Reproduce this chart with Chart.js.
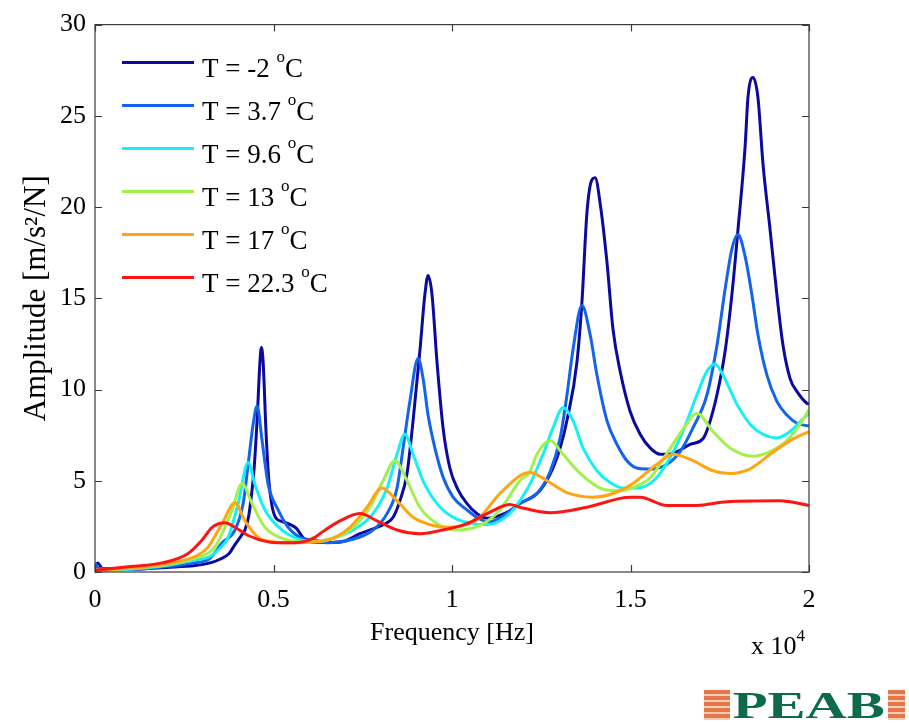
<!DOCTYPE html>
<html><head><meta charset="utf-8">
<script src="https://cdn.jsdelivr.net/npm/chart.js@4.4.1/dist/chart.umd.min.js"></script>
<style>
body{margin:0;background:#fff;}
#wrap{position:relative;width:909px;height:724px;overflow:hidden;background:#fff;}
#c{position:absolute;left:0;top:0;}
.note{position:absolute;left:751px;top:629px;font-size:26px;font-family:"Liberation Serif","Times New Roman",serif;color:#000;white-space:nowrap;}
.note sup{font-size:17px;position:relative;top:-3px;}
#logo{position:absolute;left:704px;top:690px;width:201px;height:30px;
 background:repeating-linear-gradient(to bottom,#e4774a 0px,#e4774a 4px,#f7cdb5 4px,#f7cdb5 6px);}
#logo span{position:absolute;left:26px;width:158px;top:0;height:30px;background:#fff;text-align:center;
 font-family:"Liberation Serif","DejaVu Serif",serif;font-weight:bold;font-size:38px;line-height:31px;color:#0d6b4b;}
#logo span i{font-style:normal;display:inline-block;transform:scaleX(1.5);}
</style></head><body>
<div id="wrap">
<canvas id="c" width="909" height="724"></canvas>
<div class="note">x 10<sup>4</sup></div>
<div id="logo"><span><i>PEAB</i></span></div>
</div>
<script>
const FONT = '"Liberation Serif", "Times New Roman", serif';
const seriesLabels = ['T = -2 °C','T = 3.7 °C','T = 9.6 °C','T = 13 °C','T = 17 °C','T = 22.3 °C'];
const seriesColors = ['#0a0a9e','#1463ec','#14f0f5','#a2f04c','#ffa514','#ff1414'];
const xTicks = [0, 0.5, 1, 1.5, 2];
const yTicks = [0, 5, 10, 15, 20, 25, 30];

// frequency in units of 10^4 Hz, amplitude in m/s^2/N
const tMinus2 = [[0,0.3],[0.008,0.5],[0.02,0.2],[0.1,0.15],[0.2,0.25],[0.28,0.35],[0.322,0.5],[0.35,0.7],[0.375,1.0],[0.392,1.5],[0.41,2.0],[0.42,2.3],[0.43,3.0],[0.437,4.0],[0.445,5.5],[0.454,8.3],[0.462,11.5],[0.466,12.3],[0.471,11.5],[0.479,7.7],[0.487,5.0],[0.496,3.6],[0.507,2.95],[0.527,2.75],[0.552,2.55],[0.566,2.35],[0.58,1.95],[0.595,1.7],[0.62,1.62],[0.66,1.62],[0.70,1.7],[0.742,2.1],[0.79,2.45],[0.818,2.7],[0.835,3.0],[0.854,3.9],[0.874,5.4],[0.891,8.3],[0.91,12.1],[0.924,15.2],[0.933,16.25],[0.944,15.2],[0.958,11.5],[0.975,7.9],[0.994,5.7],[1.017,4.5],[1.042,3.75],[1.07,3.2],[1.10,2.95],[1.134,3.1],[1.162,3.35],[1.19,3.75],[1.246,4.45],[1.283,5.7],[1.303,6.8],[1.322,8.3],[1.35,11.5],[1.364,14.8],[1.378,19.7],[1.392,21.5],[1.401,21.6],[1.415,20.2],[1.434,17.0],[1.451,13.3],[1.471,11.0],[1.499,8.8],[1.527,7.55],[1.555,6.8],[1.583,6.45],[1.619,6.5],[1.667,7.0],[1.703,7.3],[1.717,7.9],[1.742,9.7],[1.765,12.1],[1.784,15.2],[1.801,18.75],[1.821,23.3],[1.829,26.0],[1.843,27.1],[1.857,26.0],[1.871,22.4],[1.891,18.75],[1.91,15.2],[1.927,12.45],[1.947,10.6],[1.966,9.9],[1.994,9.25],[2.0,9.2]];
const t3p7 = [[0,0.5],[0.01,0.2],[0.1,0.15],[0.2,0.3],[0.28,0.5],[0.322,0.75],[0.356,1.6],[0.392,2.3],[0.415,3.75],[0.429,5.9],[0.443,8.1],[0.454,9.1],[0.468,7.2],[0.485,4.8],[0.513,3.4],[0.541,2.45],[0.58,1.85],[0.616,1.75],[0.65,1.6],[0.714,1.75],[0.779,2.3],[0.818,3.2],[0.846,4.6],[0.863,6.8],[0.882,9.35],[0.905,11.7],[0.919,10.6],[0.933,8.6],[0.952,6.8],[0.975,5.2],[1.003,4.1],[1.042,3.4],[1.078,2.9],[1.106,2.75],[1.134,2.95],[1.19,3.75],[1.238,4.3],[1.275,5.5],[1.303,7.35],[1.322,9.7],[1.339,12.2],[1.364,14.6],[1.387,13.0],[1.406,10.8],[1.434,8.3],[1.462,7.0],[1.49,6.1],[1.518,5.7],[1.546,5.65],[1.563,5.65],[1.602,5.9],[1.639,6.6],[1.675,7.9],[1.714,9.7],[1.742,12.4],[1.765,15.5],[1.784,17.7],[1.801,18.5],[1.821,17.3],[1.84,15.2],[1.857,13.0],[1.882,10.8],[1.91,9.35],[1.938,8.6],[1.966,8.15],[2.0,8.0]];
const t9p6 = [[0,0.1],[0.1,0.15],[0.2,0.35],[0.28,0.65],[0.322,0.85],[0.35,1.3],[0.373,1.9],[0.401,3.75],[0.429,6.0],[0.448,4.8],[0.476,3.4],[0.524,2.3],[0.58,1.75],[0.63,1.65],[0.65,1.75],[0.723,2.3],[0.779,3.2],[0.818,4.6],[0.846,6.45],[0.868,7.55],[0.891,6.45],[0.919,5.0],[0.958,3.75],[1.003,3.0],[1.059,2.65],[1.10,2.6],[1.162,3.2],[1.19,3.9],[1.218,4.8],[1.255,6.45],[1.283,7.9],[1.311,9.0],[1.339,8.3],[1.367,6.8],[1.406,5.55],[1.443,4.9],[1.479,4.6],[1.518,4.6],[1.555,4.85],[1.583,5.4],[1.639,7.35],[1.686,9.7],[1.714,11.0],[1.737,11.4],[1.759,10.8],[1.798,9.2],[1.835,8.1],[1.871,7.55],[1.91,7.35],[1.947,7.7],[1.983,8.4],[2.0,8.7]];
const t13 = [[0,0.1],[0.1,0.2],[0.2,0.4],[0.28,0.75],[0.322,1.1],[0.34,1.5],[0.356,2.1],[0.384,3.4],[0.412,4.85],[0.44,3.75],[0.476,2.45],[0.524,1.85],[0.58,1.65],[0.65,1.75],[0.723,2.45],[0.77,3.55],[0.807,5.0],[0.84,6.1],[0.874,5.0],[0.91,3.55],[0.958,2.65],[1.014,2.3],[1.078,2.55],[1.134,3.4],[1.19,5.0],[1.218,5.5],[1.238,6.45],[1.275,7.2],[1.311,6.45],[1.359,5.4],[1.415,4.6],[1.471,4.45],[1.527,4.8],[1.555,5.15],[1.602,6.5],[1.65,7.9],[1.686,8.7],[1.731,7.7],[1.779,6.8],[1.843,6.35],[1.891,6.6],[1.938,7.2],[1.975,8.1],[2.0,8.9]];
const t17 = [[0,0.1],[0.1,0.2],[0.2,0.45],[0.28,0.85],[0.316,1.35],[0.356,2.65],[0.392,3.8],[0.42,2.8],[0.457,1.9],[0.504,1.65],[0.56,1.6],[0.65,1.75],[0.714,2.45],[0.762,3.55],[0.804,4.6],[0.846,3.9],[0.891,3.0],[0.947,2.55],[0.994,2.45],[1.04,2.6],[1.078,3.0],[1.134,4.3],[1.218,5.45],[1.266,5.0],[1.322,4.35],[1.395,4.1],[1.451,4.3],[1.507,4.85],[1.574,5.9],[1.619,6.45],[1.675,6.1],[1.731,5.55],[1.779,5.4],[1.835,5.65],[1.891,6.45],[1.947,7.2],[2.0,7.7]];
const t22p3 = [[0,0.1],[0.1,0.3],[0.188,0.5],[0.26,1.0],[0.30,1.75],[0.328,2.45],[0.364,2.7],[0.392,2.45],[0.429,2.0],[0.485,1.65],[0.524,1.6],[0.58,1.65],[0.616,1.9],[0.63,2.1],[0.686,2.8],[0.742,3.2],[0.79,2.8],[0.846,2.3],[0.91,2.1],[0.975,2.3],[1.042,2.65],[1.098,3.2],[1.162,3.7],[1.19,3.55],[1.275,3.25],[1.378,3.55],[1.499,4.1],[1.527,4.1],[1.602,3.65],[1.686,3.65],[1.77,3.85],[1.919,3.9],[2.0,3.65]];

const seriesData = [tMinus2, t3p7, t9p6, t13, t17, t22p3];

const datasets = seriesData.map((pts, i) => ({
  label: seriesLabels[i],
  data: pts.map(p => ({x: p[0], y: p[1]})),
  borderColor: seriesColors[i],
  backgroundColor: seriesColors[i],
  borderWidth: 3,
  pointRadius: 0,
  fill: false,
  cubicInterpolationMode: 'monotone',
  order: seriesData.length - i
}));

const frameTicks = {
  id: 'frameTicks',
  afterDatasetsDraw(chart) {
    const {ctx, chartArea: a, scales: {x, y}} = chart;
    ctx.save();
    ctx.strokeStyle = '#3a3a3a';
    ctx.lineWidth = 1.2;
    ctx.strokeRect(a.left, a.top, a.right - a.left, a.bottom - a.top);
    ctx.beginPath();
    xTicks.forEach(v => {
      const px = Math.round(x.getPixelForValue(v)) + 0.5;
      ctx.moveTo(px, a.bottom); ctx.lineTo(px, a.bottom - 7);
      ctx.moveTo(px, a.top); ctx.lineTo(px, a.top + 7);
    });
    yTicks.forEach(v => {
      const py = Math.round(y.getPixelForValue(v)) + 0.5;
      ctx.moveTo(a.left, py); ctx.lineTo(a.left + 7, py);
      ctx.moveTo(a.right, py); ctx.lineTo(a.right - 7, py);
    });
    ctx.stroke();
    ctx.restore();
  }
};

const innerLegend = {
  id: 'innerLegend',
  afterDraw(chart) {
    const ctx = chart.ctx;
    const a = chart.chartArea;
    ctx.save();
    chart.data.datasets.forEach((ds, i) => {
      const ly = a.top + 38 + i * 43;
      ctx.strokeStyle = ds.borderColor;
      ctx.lineWidth = 3;
      ctx.beginPath();
      ctx.moveTo(a.left + 27, ly); ctx.lineTo(a.left + 99, ly);
      ctx.stroke();
      const parts = ds.label.split('°');
      let tx = a.left + 107;
      const by = ly + 14;
      ctx.fillStyle = '#000';
      ctx.textBaseline = 'alphabetic';
      ctx.textAlign = 'left';
      ctx.font = '27px ' + FONT;
      ctx.fillText(parts[0], tx, by);
      tx += ctx.measureText(parts[0]).width;
      ctx.font = '17px ' + FONT;
      ctx.fillText('o', tx, by - 15);
      tx += ctx.measureText('o').width;
      ctx.font = '27px ' + FONT;
      ctx.fillText(parts[1] || '', tx, by);
    });
    ctx.restore();
  }
};

new Chart(document.getElementById('c'), {
  type: 'line',
  data: { datasets },
  options: {
    responsive: false,
    animation: false,
    layout: { padding: { top: 20, right: 100, bottom: 0, left: 0 } },
    plugins: { legend: { display: false }, tooltip: { enabled: false } },
    scales: {
      x: {
        type: 'linear', min: 0, max: 2,
        afterBuildTicks(s) { s.ticks = xTicks.map(v => ({value: v})); },
        afterFit(s) { s.height = 152; },
        grid: { display: false, drawTicks: false },
        border: { display: false },
        ticks: { color: '#000', padding: 13, font: { family: FONT, size: 26 },
          callback: v => String(v) },
        title: { display: true, text: 'Frequency [Hz]', color: '#000',
          font: { family: FONT, size: 26 }, padding: { top: 0, bottom: 75 } }
      },
      y: {
        type: 'linear', min: 0, max: 30,
        afterBuildTicks(s) { s.ticks = yTicks.map(v => ({value: v})); },
        afterFit(s) { s.width = 95; },
        grid: { display: false, drawTicks: false },
        border: { display: false },
        ticks: { color: '#000', padding: 9, font: { family: FONT, size: 26 },
          callback: v => String(v) },
        title: { display: true, text: 'Amplitude [m/s²/N]', color: '#000',
          font: { family: FONT, size: 31 }, padding: { top: 18, bottom: 0 } }
      }
    }
  },
  plugins: [frameTicks, innerLegend]
});
</script>
</body></html>
